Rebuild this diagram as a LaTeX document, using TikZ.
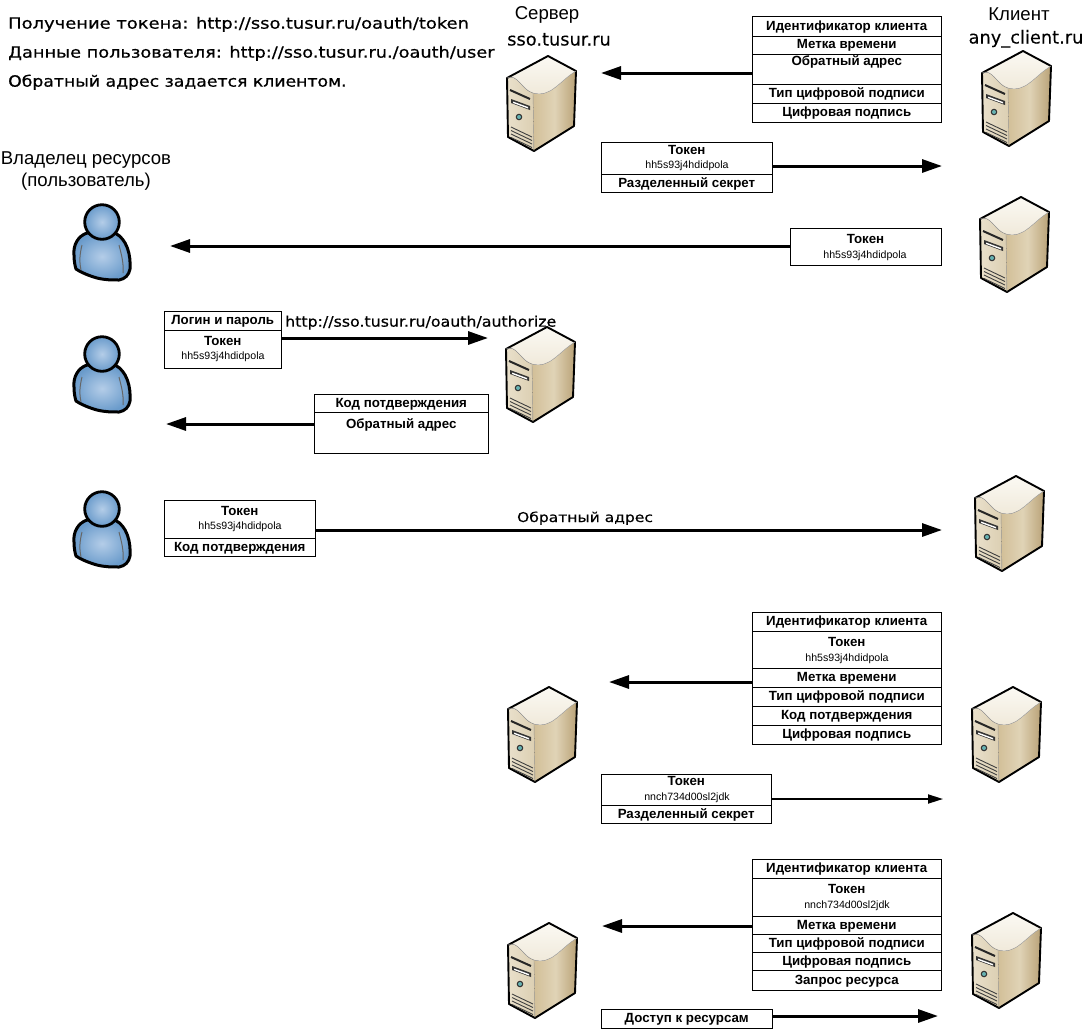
\documentclass[tikz,border=0pt]{standalone}
\usepackage{fontspec}
\setmainfont{Liberation Sans}
\newfontfamily\dva[FakeBold=0.6,FakeStretch=1.156]{DejaVu Sans}
\newfontfamily\dvb[FakeBold=0.6,FakeStretch=1.145]{DejaVu Sans}
\newfontfamily\dvc[FakeBold=0.6,FakeStretch=1.113]{DejaVu Sans}
\newfontfamily\dvd[FakeBold=0.45,FakeStretch=1.09]{DejaVu Sans}
\newfontfamily\dve[FakeBold=0.45,FakeStretch=1.15]{DejaVu Sans}
\newfontfamily\dvr[FakeBold=0.1]{DejaVu Sans}
\usetikzlibrary{arrows.meta}
\definecolor{fa}{HTML}{E9E0CB}
\definecolor{fb}{HTML}{DCCFB2}
\definecolor{sa}{HTML}{D2BF98}
\definecolor{sb}{HTML}{B9A277}
\definecolor{sc}{HTML}{E0D3B6}
\definecolor{ta}{HTML}{EFE8D8}
\definecolor{tb}{HTML}{FBF9F3}
\definecolor{ua}{HTML}{B4CDE8}
\definecolor{ub}{HTML}{6A9BCB}
\tikzset{
  rowbox/.style={draw=black,line width=1pt,fill=white,inner sep=0pt,outer sep=0pt},
  rowtext/.style={font=\bfseries\fontsize{13.3}{13.3}\selectfont,inner sep=0pt,text height=9.5pt,text depth=0pt},
  subtext/.style={font=\fontsize{10.6}{10.6}\selectfont,inner sep=0pt,text height=7.6pt,text depth=0pt},
  flow/.style={line width=3pt,-{Triangle[length=20pt,width=13pt]}},
  flowthin/.style={line width=1.8pt,-{Triangle[length=15pt,width=9pt]}},
  headtext/.style={font=\fontsize{18.6}{18.6}\selectfont,inner sep=0pt,text height=13.3pt,text depth=0pt},
  domaintext/.style={font=\dvr\fontsize{17.8}{17.8}\selectfont,inner sep=0pt,text height=13pt,text depth=0pt},
  notetext/.style={font=\fontsize{15.5}{15.5}\selectfont,inner sep=0pt,text height=11.3pt,text depth=0pt},
  serverpic/.pic={
    \fill[left color=fa,right color=fb] (0,22) to[out=25,in=165] (26,37) -- (27,95) -- (1,81) -- cycle;
    \fill[left color=sa,right color=sb,middle color=sc] (26,37) to[out=-15,in=210] (69,15) -- (67,70) -- (27,95) -- cycle;
    \fill[bottom color=ta,top color=tb] (41,0) -- (69,15) to[out=210,in=-15] (26,37) to[out=165,in=25] (0,22) -- cycle;
    \draw[line width=1.9pt,line join=round,black] (41,0) -- (69,15) -- (67,70) -- (27,95) -- (1,81) -- (0,22) -- cycle;
    \draw[line width=0.4pt,black!40] (0,22) to[out=25,in=165] (26,37) -- (27,95);
    \draw[line width=0.4pt,black!30] (26,37) to[out=-15,in=210] (69,15);
    \draw[line width=2pt,black!85] (3,34) -- (23,43);
    \fill[black!80] (4,43) -- (23,50) -- (23,54) -- (4,47) -- cycle;
    \fill[white] (6,45.5) -- (21,51) -- (21,52.5) -- (6,47) -- cycle;
    \fill[black!80] (12,61) circle (3.3);
    \fill[teal!60] (12,61) circle (2);
    \foreach \i in {0,3.5,7,10.5}
      \draw[line width=0.9pt,black!75] (4,71+\i) -- (25,81+\i);
  },
  userpic/.pic={
    \draw[line width=3pt,line join=round,inner color=ua,outer color=ub]
      (-15,28) .. controls (-24,31) and (-29,40) .. (-28,50)
      .. controls (-28,56) and (-27,61) .. (-26,64)
      .. controls (-20,68) and (-12,71) .. (-5,73)
      .. controls (3,75) and (10,75) .. (17,75)
      .. controls (23,74) and (27,70) .. (28,64)
      .. controls (29,50) and (25,34) .. (13,28) -- cycle;
    \draw[line width=1pt,black!60] (-20,40) .. controls (-22,48) and (-23,56) .. (-21,65);
    \draw[line width=1pt,black!60] (17,40) .. controls (19,48) and (22,58) .. (21,68);
    \draw[line width=2.8pt,inner color=ua,outer color=ub] (0,17) circle (17.3);
  },
}
\newcommand{\tblrow}[7]{%
  \pgfmathsetmacro\rw{#4-#2}\pgfmathsetmacro\rh{#5-#3}%
  \pgfmathsetmacro\rx{(#2+#4)/2}\pgfmathsetmacro\ry{(#3+#5)/2}%
  \node[rowbox,minimum width=\rw pt,minimum height=\rh pt] (#1) at (\rx,\ry) {};
  \node[rowtext] (#1-t) at (\rx,#7) {#6};
}
\newcommand{\tblsub}[4]{\node[subtext] (#1) at (#2,#3) {#4};}
\begin{document}
\begin{tikzpicture}[x=1pt,y=-1pt]
\useasboundingbox (0,0) rectangle (1088,1029);
% texts
\node[notetext,anchor=west] (n1) at (8,23) {\dva Получение токена: http://sso.tusur.ru/oauth/token};
\node[notetext,anchor=west] (n2) at (8,52) {\dvb Данные пользователя: http://sso.tusur.ru./oauth/user};
\node[notetext,anchor=west] (n3) at (8,81) {\dvc Обратный адрес задается клиентом.};
\node[headtext] (srv) at (547,13) {Сервер};
\node[domaintext] (srvd) at (559,39) {sso.tusur.ru};
\node[headtext] (cli) at (1019,14) {Клиент};
\node[domaintext] (clid) at (1026,37) {any\_client.ru};
\node[headtext] (own1) at (86,158) {Владелец ресурсов};
\node[headtext] (own2) at (86,180) {(пользователь)};
% machines
\pic at (507,56) {serverpic};
\pic at (982,51) {serverpic};
\pic at (980,197) {serverpic};
\pic at (506,327) {serverpic};
\pic at (975,476) {serverpic};
\pic at (508,687) {serverpic};
\pic at (972,687) {serverpic};
\pic at (508,923) {serverpic};
\pic at (972,913) {serverpic};
\pic at (102,205) {userpic};
\pic at (102,337) {userpic};
\pic at (102,492) {userpic};
% table A
\tblrow{a1}{752.5}{16}{941}{36}{Идентификатор клиента}{26}
\tblrow{a2}{752.5}{36}{941}{54}{Метка времени}{44}
\tblrow{a3}{752.5}{54}{941}{84}{Обратный адрес}{61}
\tblrow{a4}{752.5}{84}{941}{103}{Тип цифровой подписи}{93}
\tblrow{a5}{752.5}{103}{941}{122}{Цифровая подпись}{112}
\coordinate (ha) at (601,73);
\draw[flow] (a3.west |- ha) -- (ha);
% table B
\tblrow{b1}{601.5}{142}{772}{174}{Токен}{150}
\tblsub{b1s}{687}{165}{hh5s93j4hdidpola}
\tblrow{b2}{601.5}{174}{772}{192}{Разделенный секрет}{183}
\coordinate (hb) at (942,166);
\draw[flow] (b1.east |- hb) -- (hb);
% table C
\tblrow{c1}{790}{228}{941}{265}{Токен}{238.5}
\tblsub{c1s}{865}{255}{hh5s93j4hdidpola}
\coordinate (hc) at (170,246);
\draw[flow] (c1.west |- hc) -- (hc);
% table D
\tblrow{d1}{164.5}{311}{281}{330}{Логин и пароль}{320}
\tblrow{d2}{164.5}{330}{281}{368}{Токен}{340.5}
\tblsub{d2s}{223}{356}{hh5s93j4hdidpola}
\coordinate (hd) at (488,338);
\draw[flow] (d2.east |- hd) -- (hd);
\node[notetext,anchor=west,font=\fontsize{14.5}{14.5}\selectfont] (durl) at (285,321) {\dvd http://sso.tusur.ru/oauth/authorize};
% table E
\tblrow{e1}{314.5}{394}{488}{412}{Код потдверждения}{403}
\tblrow{e2}{314.5}{412}{488}{453}{Обратный адрес}{424}
\coordinate (he) at (166,424);
\draw[flow] (e2.west |- he) -- (he);
% table F
\tblrow{f1}{164.5}{500}{315}{538}{Токен}{510.5}
\tblsub{f1s}{240}{526}{hh5s93j4hdidpola}
\tblrow{f2}{164.5}{538}{315}{556}{Код потдверждения}{547}
\coordinate (hf) at (942,530);
\draw[flow] (f1.east |- hf) -- (hf);
\node[font=\dve\fontsize{13.5}{13.5}\selectfont,inner sep=0pt,text height=10pt,text depth=0pt] (flab) at (585,517) {Обратный адрес};
% table G
\tblrow{g1}{752.5}{612}{941}{631}{Идентификатор клиента}{621}
\tblrow{g2}{752.5}{631}{941}{668}{Токен}{641.5}
\tblsub{g2s}{847}{658}{hh5s93j4hdidpola}
\tblrow{g3}{752.5}{668}{941}{687}{Метка времени}{677}
\tblrow{g4}{752.5}{687}{941}{706}{Тип цифровой подписи}{696}
\tblrow{g5}{752.5}{706}{941}{725}{Код потдверждения}{715}
\tblrow{g6}{752.5}{725}{941}{744}{Цифровая подпись}{734}
\coordinate (hg) at (609,682);
\draw[flow] (g3.west |- hg) -- (hg);
% table H
\tblrow{h1}{601.5}{774}{771}{805}{Токен}{781}
\tblsub{h1s}{687}{797}{nnch734d00sl2jdk}
\tblrow{h2}{601.5}{805}{771}{823}{Разделенный секрет}{814}
\coordinate (hh) at (943,799);
\draw[flowthin] (h1.east |- hh) -- (hh);
% table I
\tblrow{i1}{752.5}{859}{941}{878}{Идентификатор клиента}{868}
\tblrow{i2}{752.5}{878}{941}{916}{Токен}{888.5}
\tblsub{i2s}{847}{905}{nnch734d00sl2jdk}
\tblrow{i3}{752.5}{916}{941}{934}{Метка времени}{925}
\tblrow{i4}{752.5}{934}{941}{952}{Тип цифровой подписи}{943}
\tblrow{i5}{752.5}{952}{941}{970}{Цифровая подпись}{961}
\tblrow{i6}{752.5}{970}{941}{990}{Запрос ресурса}{980}
\coordinate (hi) at (602,926);
\draw[flow] (i3.west |- hi) -- (hi);
% table J
\tblrow{j1}{601.5}{1009}{772}{1028}{Доступ к ресурсам}{1018}
\coordinate (hj) at (938,1016);
\draw[flow] (j1.east |- hj) -- (hj);
\end{tikzpicture}
\end{document}
